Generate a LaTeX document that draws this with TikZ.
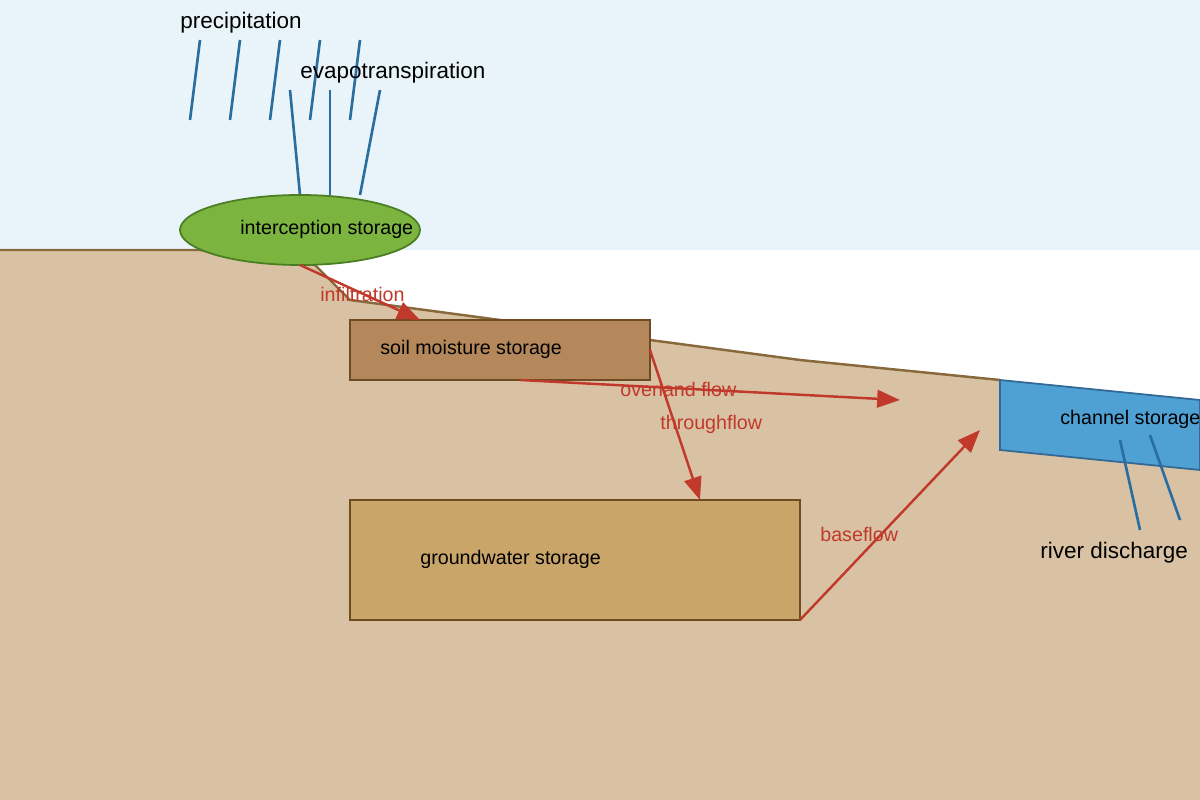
\documentclass[tikz,border=0pt]{standalone}
\usepackage{fontspec}
\setmainfont{Liberation Sans}
\usetikzlibrary{arrows.meta}
\definecolor{sky}{RGB}{233,244,250}
\definecolor{soil}{RGB}{217,194,163}
\definecolor{soilline}{RGB}{135,105,60}
\definecolor{water}{RGB}{78,161,210}
\definecolor{waterline}{RGB}{50,105,150}
\definecolor{rainc}{RGB}{41,110,160}
\definecolor{flowc}{RGB}{192,57,43}
\definecolor{boxline}{RGB}{110,75,35}
\definecolor{leaf}{RGB}{124,180,64}
\definecolor{leafline}{RGB}{75,125,35}
\definecolor{smc}{RGB}{180,136,90}
\definecolor{gwc}{RGB}{201,165,106}
\begin{document}
\begin{tikzpicture}[x=0.02cm,y=-0.02cm,
  lbl/.style={anchor=west,inner sep=0pt,font=\fontsize{11.2}{13}\selectfont},
  big/.style={anchor=west,inner sep=0pt,font=\fontsize{12.8}{15}\selectfont},
  flow/.style={anchor=west,inner sep=0pt,text=flowc,font=\fontsize{11.2}{13}\selectfont},
  arr/.style={draw=flowc,line width=1.4pt,-{Triangle[length=13pt,width=10pt]}},
  rain/.style={draw=rainc,line width=1.5pt},
  box/.style={draw=boxline,line width=1pt}]
\useasboundingbox (0,0) rectangle (1200,800);
\fill[sky] (0,0) rectangle (1200,250);
\fill[soil] (0,250) -- (200,250) -- (315,265) -- (350,300) -- (500,320) -- (800,360) -- (1200,400) -- (1200,800) -- (0,800) -- cycle;
\draw[soilline,line width=1.4pt] (0,250) -- (200,250) -- (315,265) -- (350,300) -- (500,320) -- (800,360) -- (1000,380);
\draw[fill=water,draw=waterline,line width=1pt] (1000,380) -- (1200,400) -- (1200,470) -- (1000,450) -- cycle;
\node[lbl] (ch) at (1060,419) {channel storage};
\foreach \x in {190,230,270,310,350} \draw[rain] (\x,120) -- (\x+10,40);
\draw[rain] (300,195) -- (290,90);
\draw[rain] (330,195) -- (330,90);
\draw[rain] (360,195) -- (380,90);
\draw[rain] (1140,530) -- (1120,440);
\draw[rain] (1180,520) -- (1150,435);
\node[big] (pr) at (180,23) {precipitation};
\node[big] (ev) at (300,73) {evapotranspiration};
\node[big] (rd) at (1040,553) {river discharge};
\draw[fill=leaf,draw=leafline,line width=1pt] (300,230) ellipse [x radius=120,y radius=35];
\node[lbl] (ic) at (240,229) {interception storage};
\draw[box,fill=smc] (350,320) rectangle (650,380);
\node[lbl] (sm) at (380,349) {soil moisture storage};
\draw[box,fill=gwc] (350,500) rectangle (800,620);
\node[lbl] (gw) at (420,559) {groundwater storage};
\coordinate (i1) at (300,265); \coordinate (i2) at (420,320);
\coordinate (o1) at (520,380); \coordinate (o2) at (900,400);
\coordinate (t1) at (650,350); \coordinate (t2) at (700,500);
\coordinate (b1) at (800,620); \coordinate (b2) at (980,430);
\draw[arr] (i1) -- (i2);
\draw[arr] (o1) -- (o2);
\draw[arr] (t1) -- (t2);
\draw[arr] (b1) -- (b2);
\node[flow] (fi) at (320,294) {infiltration};
\node[flow] (fo) at (620,389) {overland flow};
\node[flow] (ft) at (660,424) {throughflow};
\node[flow] (fb) at (820,534) {baseflow};
\end{tikzpicture}
\end{document}
